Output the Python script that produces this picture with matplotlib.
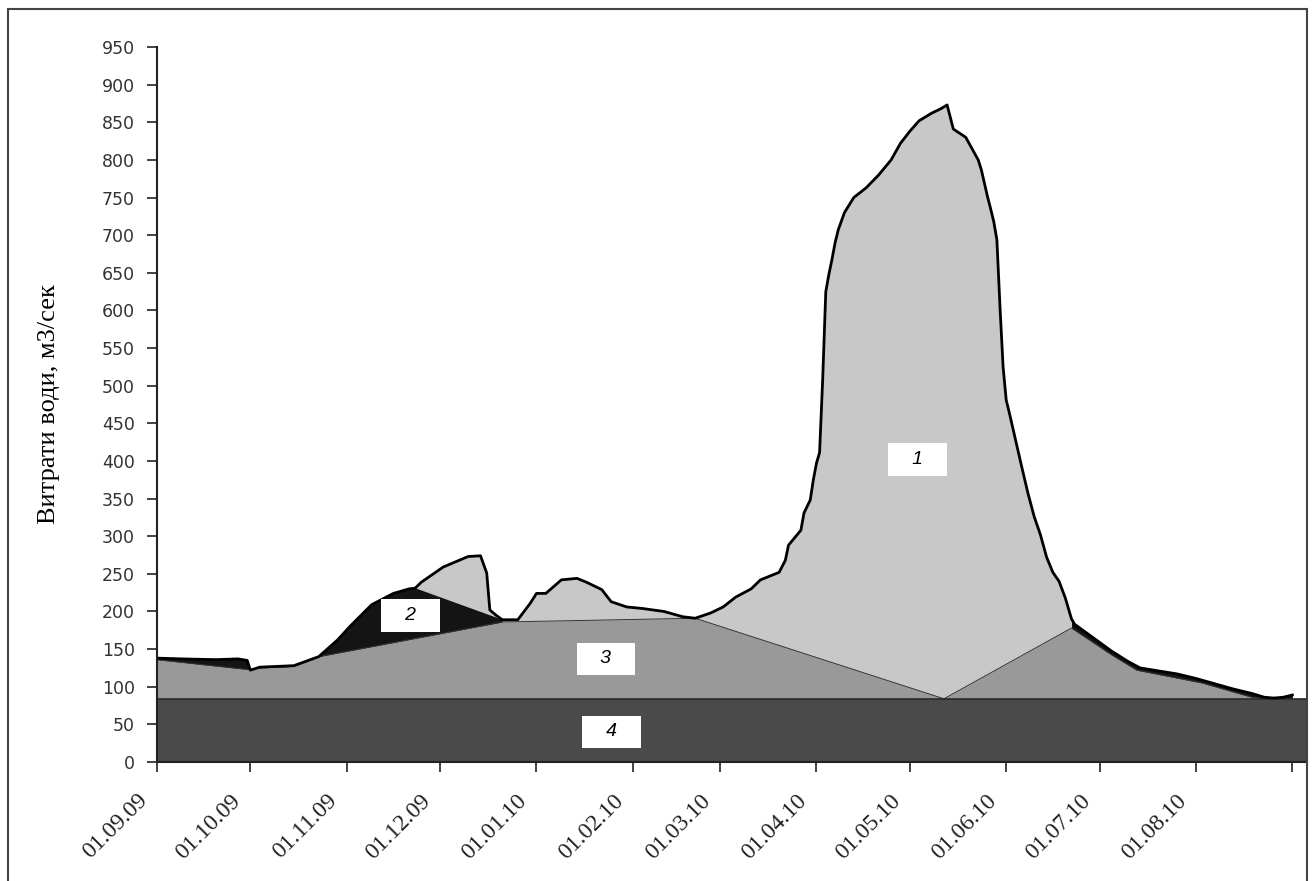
import matplotlib
matplotlib.use('Agg')
import matplotlib.pyplot as plt
import matplotlib.transforms as mtransforms
from matplotlib.patches import Rectangle
import numpy as np
import pandas as pd

# hydrograph, day number from 01.09.2009 and discharge, m3/s
q_day = [0, 8, 19, 26, 29, 30, 33, 44, 52, 58, 62, 69, 76, 81, 83, 85, 92, 100, 104,
         106, 107, 109, 111, 116, 120, 122, 125, 130, 135, 138, 143, 146, 151, 156,
         163, 169, 173, 178, 182, 186, 191, 194, 200, 202, 203, 207, 208, 210, 211,
         212, 213, 214, 215, 216, 217, 218, 219, 221, 224, 228, 232, 236, 239, 242,
         245, 249, 252, 254, 256, 260, 264, 265, 267, 268, 269, 270, 271, 272, 273,
         274, 275, 276, 277, 278, 280, 282, 284, 286, 288, 290, 292, 294, 295, 298,
         301, 304, 307, 312, 316, 322, 328, 334, 340, 346, 352, 356, 359, 362, 365]
q_val = [138, 137, 136, 137, 135, 122, 126, 128, 140, 162, 180, 209, 224, 230, 231, 239, 259, 273, 274,
         251, 202, 195, 189, 189, 211, 224, 224, 242, 244, 239, 229, 213, 206, 204,
         200, 193, 191, 198, 206, 219, 230, 242, 252, 268, 288, 308, 331, 348, 375,
         397, 411, 508, 625, 648, 668, 690, 707, 730, 750, 763, 780, 800, 822, 838,
         852, 862, 868, 873, 841, 830, 800, 787, 751, 735, 718, 694, 605, 525, 481,
         464, 446, 428, 410, 392, 357, 326, 302, 272, 252, 240, 218, 190, 183, 174,
         165, 156, 147, 134, 125, 121, 117, 111, 104, 97, 91, 86, 85, 86, 89]

# groundwater flow (zone 3 upper boundary)
base_day = [0, 29, 33, 44, 52, 111, 173, 253, 294, 307, 315, 336, 352, 357, 365]
base_val = [136, 123, 125, 127, 140, 186, 191, 84, 178, 142, 122, 105, 86, 84, 84]

# deep underground flow (zone 4)
deep_val = 84

# rain flood (zone 2) is cut off from zone 1 between these days
split_days = [83, 111]

zone_names = ['1', '2', '3', '4']
zone_day = [244.5, 81.6, 144.3, 146.2]
zone_q = [402, 195, 137, 40]

start = pd.Timestamp('2009-09-01')
q_dates = start + pd.to_timedelta(q_day, unit='D')
base_dates = start + pd.to_timedelta(base_day, unit='D')
q_day_a = np.array(q_day)
q_val_a = np.array(q_val)

fig = plt.figure(figsize=(13.13, 8.81), dpi=100)
ax = fig.add_axes([157/1313, 1-762/881, 1150/1313, 715/881])

# zone 2 by default under the whole hydrograph
ax.fill_between(q_dates, q_val_a, 0, color='#141414', lw=0)

# zone 1 in Nov-Dec, closed by the straight cut line
m = (q_day_a >= split_days[0]) & (q_day_a <= split_days[1])
ax.fill(q_dates[m], q_val_a[m], color='#c8c8c8', lw=0)

# zone 1 spring flood
m = (q_day_a >= split_days[1]) & (q_day_a <= 294)
ax.fill_between(q_dates[m], q_val_a[m], 0, color='#c8c8c8', lw=0)

# zone 3
ax.fill_between(base_dates, base_val, 0, color='#999999', lw=0)
ax.plot(base_dates, base_val, color='#333333', lw=0.7)

# zone 4
xend = start + pd.Timedelta(days=369.7)
ax.fill_between([start, xend], deep_val, 0, color='#4a4a4a', lw=0)
ax.plot([start, xend], [deep_val, deep_val], color='#2a2a2a', lw=1.2)

ax.plot(q_dates, q_val_a, color='black', lw=2)

for name, d, v in zip(zone_names, zone_day, zone_q):
    ax.text(start + pd.Timedelta(days=d), v, '   ' + name + '   ',
            ha='center', va='center', fontsize=14, style='italic',
            family='Liberation Sans',
            bbox=dict(boxstyle='square,pad=0.4', fc='white', ec='none'))

ax.set_xlim(start, xend)
ax.set_ylim(0, 950)
ax.set_yticks(np.arange(0, 951, 50))
ax.tick_params(axis='y', length=7, width=1.2, pad=9, labelsize=12.5, colors='#222222')
for t in ax.get_yticklabels():
    t.set_family('DejaVu Sans')
    t.set_color('#333333')

ticks = pd.date_range('2009-09-01', '2010-09-01', freq='MS')
labels = [t.strftime('%d.%m.%y') for t in ticks]
labels[-1] = ''
ax.set_xticks(ticks)
ax.set_xticklabels(labels, rotation=45, ha='right', va='top', rotation_mode='anchor',
                   family='Liberation Serif', fontsize=17)
ax.tick_params(axis='x', length=7, width=1.2, pad=6, colors='#222222')
shift = mtransforms.ScaledTranslation(-20/100, -10/100, fig.dpi_scale_trans)
for t in ax.get_xticklabels():
    t.set_transform(t.get_transform() + shift)

ax.set_ylabel('Витрати води, м3/сек', family='Liberation Serif', fontsize=19, labelpad=30)

for s in ['top', 'right']:
    ax.spines[s].set_visible(False)
for s in ['left', 'bottom']:
    ax.spines[s].set_linewidth(1.5)
    ax.spines[s].set_color('#222222')

fig.patches.append(Rectangle((8/1313, -0.1), 1299/1313, 1.1 - 9/881, transform=fig.transFigure,
                             fill=False, ec='#444444', lw=1.5))

fig.savefig('out.png', dpi=100)
